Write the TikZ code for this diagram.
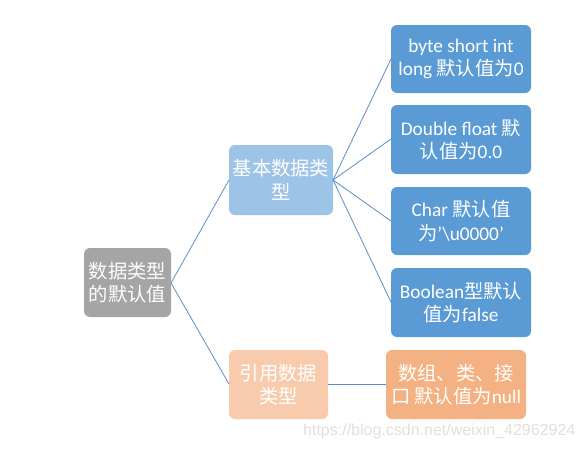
\documentclass[tikz,border=0pt]{standalone}
\usepackage{fontspec}
\setmainfont{Carlito}
\newfontfamily\zhfont{Noto Sans CJK SC}
\newfontfamily\wmfont{Liberation Sans}
\newcommand{\zh}[1]{{\zhfont #1}}
\definecolor{rootgray}{HTML}{A5A5A5}
\definecolor{midblue}{HTML}{9DC3E6}
\definecolor{leafblue}{HTML}{5B9BD5}
\definecolor{midorange}{HTML}{F8CBAD}
\definecolor{leaforange}{HTML}{F4B183}
\definecolor{linkblue}{HTML}{5B8FC7}
\tikzset{
  box/.style={rounded corners=6pt, text=white, align=center, inner sep=0pt,
    font=\fontsize{19.3}{23.5}\selectfont},
  link/.style={draw=linkblue, line width=0.8pt}
}
\begin{document}
\begin{tikzpicture}[x=1pt,y=-1pt]
\useasboundingbox (0,0) rectangle (584,450);
\fill[white] (0,0) rectangle (584,450);
% boxes
\fill[rootgray, rounded corners=6pt] (84,248) rectangle (171,317);
\node[box] (root) at (127.5,282.5) {\zh{数据类型}\\\zh{的默认值}};
\fill[midblue, rounded corners=6pt] (229,145) rectangle (333,215);
\node[box] (basic) at (281,180) {\zh{基本数据类}\\\zh{型}};
\fill[midorange, rounded corners=6pt] (229,350) rectangle (328,419);
\node[box] (ref) at (278.5,384.5) {\zh{引用数据}\\\zh{类型}};
\fill[leafblue, rounded corners=6pt] (391,25) rectangle (531,93);
\node[box] (l1) at (461,59) {byte short int\\long \zh{默认值为}0};
\fill[leafblue, rounded corners=6pt] (391,105) rectangle (531,174);
\node[box] (l2) at (461,139.5) {Double float \zh{默}\\\zh{认值为}0.0};
\fill[leafblue, rounded corners=6pt] (391,187) rectangle (531,255);
\node[box] (l3) at (461,221) {Char \zh{默认值}\\\zh{为}’\textbackslash u0000’};
\fill[leafblue, rounded corners=6pt] (391,268) rectangle (531,337);
\node[box] (l4) at (461,302.5) {Boolean\zh{型默认}\\\zh{值为}false};
\fill[leaforange, rounded corners=6pt] (386,350) rectangle (526,419);
\node[box] (l5) at (456,384.5) {\zh{数组、类、接}\\\zh{口 默认值为}null};
% anchors
\coordinate (rootR) at (171,283);
\coordinate (basicL) at (229,180);
\coordinate (basicR) at (333,180);
\coordinate (refL) at (229,384);
\coordinate (refR) at (328,384);
\coordinate (l1L) at (391,59);
\coordinate (l2L) at (391,139);
\coordinate (l3L) at (391,221);
\coordinate (l4L) at (391,302);
\coordinate (l5L) at (386,384);
\draw[link] (rootR) -- (basicL);
\draw[link] (rootR) -- (refL);
\draw[link] (basicR) -- (l1L);
\draw[link] (basicR) -- (l2L);
\draw[link] (basicR) -- (l3L);
\draw[link] (basicR) -- (l4L);
\draw[link] (refR) -- (l5L);
% watermark
\node[text=black!12, font=\wmfont\fontsize{16}{18}\selectfont, anchor=west, inner sep=0pt] (wm) at (303,431) {https://blog.csdn.net/weixin\_42962924};
\end{tikzpicture}
\end{document}
